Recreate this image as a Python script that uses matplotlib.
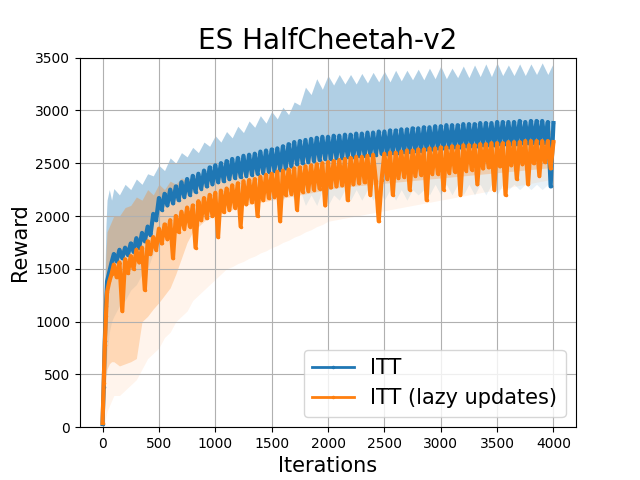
import numpy as np
import matplotlib
matplotlib.use("Agg")
import matplotlib.pyplot as plt

# iteration grids: lines are sampled every 25 iterations, bands every 50
line_iters = [0, 10, 20, 30, 40, 60, 80] + list(range(100, 4001, 25))
band_iters = [0, 10, 20, 30, 40, 60, 80, 100] + list(range(150, 4001, 50))

# ITT reward (noisy curve)
itt = [30, 380, 820, 1150, 1380, 1470, 1560,
       1640, 1570, 1680, 1600, 1700, 1630, 1740, 1660,
       1790, 1700, 1840, 1760, 1900, 1820, 2020, 1960,
       2170, 2060, 2210, 2100, 2250, 2120, 2280, 2150,
       2320, 2180, 2350, 2200, 2380, 2230, 2400, 2260,
       2430, 2280, 2460, 2300, 2480, 2320, 2500, 2330,
       2520, 2350, 2540, 2360, 2550, 2370, 2570, 2380,
       2580, 2390, 2590, 2400, 2610, 2410, 2620, 2420,
       2630, 2430, 2640, 2440, 2660, 2450, 2680, 2470,
       2700, 2490, 2710, 2500, 2720, 2510, 2730, 2520,
       2740, 2530, 2750, 2540, 2750, 2540, 2760, 2550,
       2760, 2550, 2770, 2560, 2770, 2560, 2780, 2570,
       2780, 2570, 2790, 2580, 2790, 2580, 2800, 2590,
       2800, 2590, 2810, 2600, 2810, 2600, 2820, 2610,
       2820, 2610, 2830, 2620, 2830, 2620, 2840, 2630,
       2840, 2630, 2850, 2640, 2850, 2640, 2860, 2650,
       2860, 2650, 2860, 2650, 2870, 2660, 2870, 2660,
       2870, 2660, 2880, 2670, 2880, 2670, 2880, 2670,
       2890, 2680, 2890, 2680, 2890, 2680, 2890, 2680,
       2900, 2690, 2890, 2690, 2900, 2690, 2900, 2690,
       2900, 2690, 2890, 2280, 2880]

# ITT (lazy updates) reward (noisy curve with dips)
lazy = [40, 420, 780, 1050, 1280, 1380, 1450,
        1540, 1420, 1560, 1100, 1590, 1460, 1620, 1500,
        1680, 1560, 1700, 1300, 1760, 1640, 1800, 1680,
        1880, 1740, 1920, 1780, 1960, 1600, 2000, 1850,
        2040, 1880, 2080, 1900, 2100, 1700, 2140, 1960,
        2170, 1980, 2200, 2000, 2220, 1800, 2240, 2040,
        2260, 2060, 2290, 2080, 2310, 1900, 2330, 2110,
        2340, 2130, 2350, 2000, 2370, 2150, 2390, 2170,
        2400, 2180, 2420, 1950, 2430, 2200, 2440, 2210,
        2450, 2060, 2460, 2230, 2470, 2240, 2480, 2250,
        2490, 2260, 2500, 2100, 2510, 2270, 2520, 2280,
        2530, 2290, 2540, 2150, 2550, 2300, 2560, 2310,
        2560, 2320, 2570, 2200, 2580, 2330, 1950, 2340,
        2590, 2350, 2600, 2200, 2600, 2360, 2610, 2370,
        2620, 2250, 2620, 2380, 2630, 2390, 2630, 2150,
        2640, 2400, 2640, 2400, 2650, 2250, 2650, 2410,
        2660, 2420, 2660, 2200, 2670, 2430, 2670, 2440,
        2670, 2300, 2680, 2450, 2680, 2460, 2690, 2250,
        2690, 2470, 2690, 2200, 2700, 2480, 2700, 2350,
        2700, 2490, 2710, 2300, 2710, 2500, 2710, 2380,
        2710, 2510, 2710, 2450, 2700]

# ITT spread: upper edge, dense lower edge, faint lower edge
itt_hi = [100, 700, 1400, 1900, 2150, 2250, 2150, 2260,
          2200, 2300, 2250, 2350, 2300, 2400, 2380, 2480, 2430, 2550,
          2500, 2600, 2560, 2650, 2600, 2700, 2660, 2760, 2700, 2800,
          2740, 2850, 2790, 2900, 2840, 2950, 2880, 2990, 2920, 3030,
          2960, 3080, 3050, 3220, 3150, 3300, 3200, 3330, 3240, 3340,
          3250, 3340, 3250, 3350, 3260, 3360, 3270, 3370, 3270, 3380,
          3280, 3380, 3290, 3390, 3290, 3400, 3300, 3420, 3300, 3400,
          3310, 3420, 3310, 3430, 3320, 3440, 3320, 3450, 3330, 3430,
          3330, 3440, 3330, 3440, 3340, 3450, 3340, 3450]
itt_mid = [0, 300, 700, 1050, 1300, 1420, 1520, 1560,
           1620, 1680, 1730, 1780, 1830, 1880, 1960, 2080, 2130, 2160,
           2190, 2220, 2250, 2280, 2300, 2330, 2350, 2370, 2390, 2410,
           2420, 2430, 2440, 2460, 2470, 2480, 2490, 2500, 2510, 2520,
           2530, 2550, 2570, 2580, 2590, 2600, 2610, 2620, 2625, 2630,
           2635, 2640, 2645, 2650, 2655, 2660, 2665, 2670, 2675, 2680,
           2685, 2690, 2695, 2700, 2705, 2710, 2715, 2720, 2725, 2730,
           2730, 2735, 2735, 2740, 2740, 2745, 2745, 2750, 2750, 2755,
           2755, 2760, 2760, 2765, 2765, 2770, 2770, 2770]
itt_lo = [0, 100, 300, 500, 700, 900, 1000, 1050,
          1150, 1200, 1300, 1350, 1450, 1500, 1650, 1750, 1850, 1900,
          1950, 1950, 2000, 2000, 2050, 2050, 2100, 2050, 2150, 2100,
          2200, 2150, 2200, 2150, 2200, 2150, 2250, 2150, 2250, 2150,
          2250, 2150, 2250, 2100, 2200, 2100, 2250, 2100, 2200, 2150,
          2250, 2150, 2250, 2150, 2250, 2150, 2250, 2150, 2250, 2150,
          2250, 2150, 2250, 2200, 2250, 2200, 2300, 2200, 2300, 2200,
          2300, 2200, 2300, 2200, 2300, 2200, 2300, 2200, 2300, 2250,
          2300, 2250, 2300, 2250, 2300, 2250, 2300, 2250]

# lazy-updates spread
lazy_hi = [80, 700, 1300, 1650, 1850, 1900, 1950, 2000,
           2000, 2080, 2100, 2180, 2150, 2250, 2200, 2300, 2250, 2330,
           2300, 2360, 2330, 2380, 2350, 2420, 2400, 2450, 2400, 2480,
           2420, 2500, 2440, 2520, 2460, 2540, 2480, 2560, 2500, 2580,
           2520, 2600, 2540, 2620, 2560, 2640, 2580, 2660, 2600, 2680,
           2620, 2690, 2630, 2700, 2640, 2710, 2650, 2720, 2660, 2730,
           2670, 2740, 2680, 2750, 2690, 2760, 2700, 2770, 2710, 2780,
           2720, 2790, 2730, 2800, 2740, 2810, 2750, 2820, 2760, 2830,
           2770, 2840, 2780, 2850, 2790, 2850, 2790, 2850]
lazy_mid = [0, 100, 300, 450, 550, 600, 620, 620,
            580, 600, 620, 650, 1000, 1050, 1120, 1180, 1250, 1320,
            1450, 1600, 1750, 1850, 1900, 1950, 1980, 2000, 2020, 2040,
            2060, 2080, 2100, 2110, 2120, 2130, 2140, 2150, 2160, 2170,
            2180, 2190, 2200, 2210, 2220, 2230, 2240, 2250, 2260, 2270,
            2275, 2280, 2285, 2290, 2295, 2300, 2305, 2310, 2315, 2320,
            2325, 2330, 2335, 2340, 2345, 2350, 2355, 2360, 2365, 2370,
            2375, 2380, 2385, 2390, 2395, 2400, 2405, 2410, 2415, 2420,
            2425, 2430, 2435, 2440, 2445, 2450, 2455, 2460]
lazy_lo = [0, 0, 50, 100, 150, 200, 250, 300,
           300, 350, 400, 450, 550, 650, 700, 750, 850, 900,
           1000, 1050, 1100, 1200, 1250, 1300, 1350, 1400, 1450, 1500,
           1520, 1550, 1570, 1600, 1620, 1650, 1670, 1700, 1720, 1750,
           1770, 1800, 1820, 1850, 1870, 1900, 1920, 1950, 1960, 1970,
           1980, 1990, 2000, 2010, 2020, 2030, 2040, 2050, 2060, 2070,
           2080, 2090, 2100, 2110, 2120, 2130, 2140, 2150, 2160, 2170,
           2180, 2190, 2200, 2210, 2220, 2230, 2240, 2250, 2260, 2270,
           2280, 2290, 2300, 2310, 2320, 2330, 2340, 2350]

fig, ax = plt.subplots(figsize=(6.4, 4.8), dpi=100)

# faint tails below the curves, denser spread above
ax.fill_between(band_iters, itt_lo, itt_mid, color="C0", alpha=0.1, linewidth=0)
ax.fill_between(band_iters, lazy_lo, lazy_mid, color="C1", alpha=0.08, linewidth=0)
ax.fill_between(band_iters, itt_mid, itt_hi, color="C0", alpha=0.35, linewidth=0)
ax.fill_between(band_iters, lazy_mid, lazy_hi, color="C1", alpha=0.3, linewidth=0)

ax.plot(line_iters, itt, color="C0", marker=".", markersize=3, linewidth=3, label="ITT")
ax.plot(line_iters, lazy, color="C1", marker=".", markersize=3, linewidth=3,
        label="ITT (lazy updates)")

ax.set_ylim(0, 3500)
ax.set_title("ES HalfCheetah-v2", fontsize=20)
ax.set_xlabel("Iterations", fontsize=15)
ax.set_ylabel("Reward", fontsize=15)
ax.grid(True)
leg = ax.legend(loc="lower right", fontsize=15)
for h in leg.get_lines():
    h.set_linewidth(2)

fig.savefig("out.png", dpi=100)
